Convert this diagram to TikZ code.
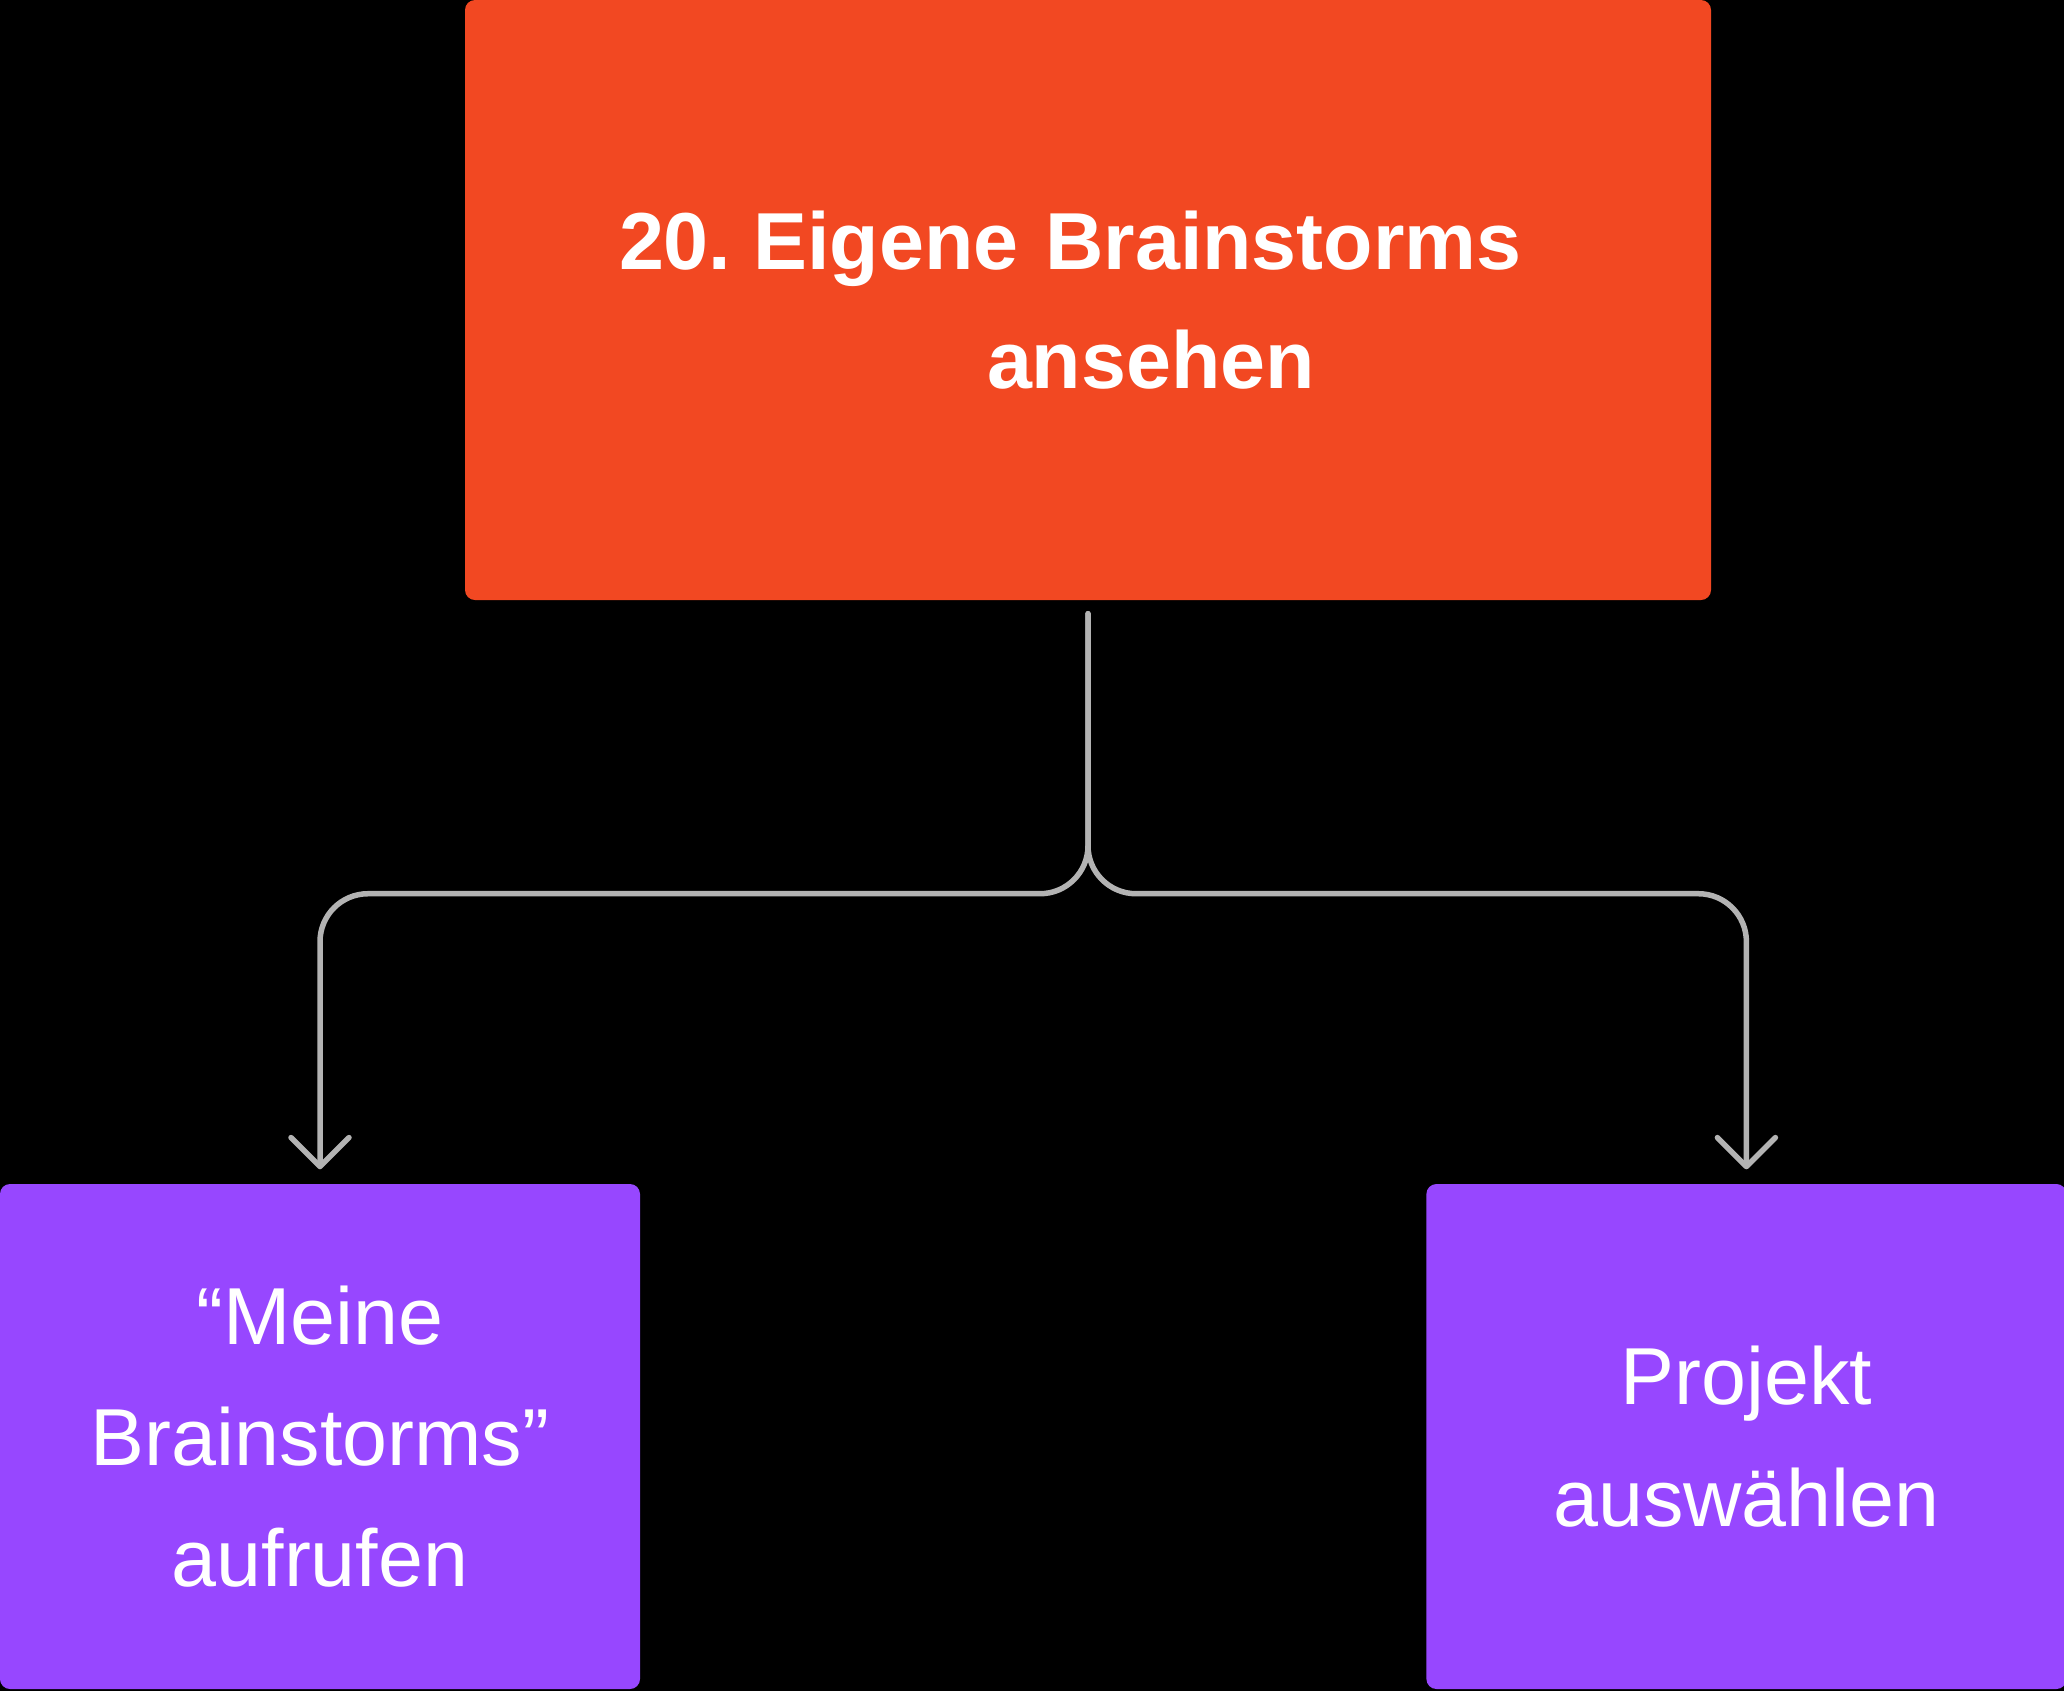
\documentclass[tikz,border=0pt]{standalone}
\usepackage{fontspec}
\setmainfont{Liberation Sans}
\usetikzlibrary{positioning,arrows.meta}
\definecolor{goalred}{HTML}{F24822}
\definecolor{steppurple}{HTML}{9747FF}
\definecolor{linkgray}{HTML}{B3B3B3}
\begin{document}
\begin{tikzpicture}[
     % define styles
     goalbox/.style={
         fill=goalred,
         rounded corners=0.1cm,
         minimum width=12.46cm,
         minimum height=6.00cm,
         inner xsep=1.54cm,
         text width=9.38cm,
         align=left,
         text=white,
         font=\fontsize{23}{34}\selectfont\bfseries
     },
     stepbox/.style={
         fill=steppurple,
         rounded corners=0.1cm,
         minimum width=6.40cm,
         minimum height=5.05cm,
         align=center,
         text=white,
         font=\fontsize{23}{34.5}\selectfont
     },
     link/.style={
         draw=linkgray,
         line width=0.055cm,
         line cap=round,
         rounded corners=0.48cm,
         -{Straight Barb[length=0.29cm,width=0.58cm,line cap=round,round]}
     }
]
% background and page size
\fill[black] (0,0) rectangle (20.64,-16.91);
\useasboundingbox (0,0) rectangle (20.64,-16.91);

% boxes
\node[goalbox] (goal) at (10.88,-3.00)
    {20.\hspace{0.22cm}Eigene Brainstorms\\\hspace*{3.68cm}ansehen};
\node[stepbox] (menu) at (3.20,-14.365)
    {“Meine\\Brainstorms”\\aufrufen};
\node[stepbox, right=7.85cm of menu] (project)
    {Projekt\\auswählen};

% connectors
\draw[link] ([yshift=-1.3mm]goal.south) -- ++(0,-2.80) -| ([yshift=1.4mm]menu.north);
\draw[link] ([yshift=-1.3mm]goal.south) -- ++(0,-2.80) -| ([yshift=1.4mm]project.north);
\end{tikzpicture}
\end{document}
